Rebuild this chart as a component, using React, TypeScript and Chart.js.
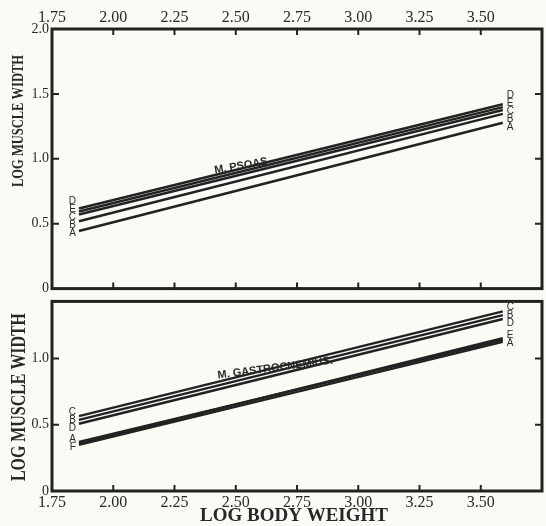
import React, { useEffect, useRef } from "react";
import { Chart, registerables } from "chart.js";

Chart.register(...registerables);

// ---------- data ----------
const xMin = 1.75;
const xMax = 3.75;
const xStep = 0.25;
const lineStartX = 1.86;
const lineEndX = 3.59;

const psoasSeries = ["A", "B", "C", "D", "E"];
const psoasStart = [0.444, 0.519, 0.571, 0.617, 0.594];
const psoasEnd = [1.278, 1.346, 1.376, 1.42, 1.398];
const psoasLeftLabels = ["D", "E", "C", "B", "A"];
const psoasRightLabels = ["D", "E", "C", "B", "A"];
const psoasTitle = "M. PSOAS";

const gastroSeries = ["A", "B", "C", "D", "E", "F"];
const gastroStart = [0.37, 0.536, 0.565, 0.507, 0.358, 0.348];
const gastroEnd = [1.138, 1.326, 1.355, 1.297, 1.152, 1.125];
const gastroLeftLabels = ["C", "B", "D", "A", "F"];
const gastroRightLabels = ["C", "B", "D", "E", "A"];
const gastroTitle = "M. GASTROCNEMIUS.";

const topYMax = 2.0;
const bottomYMax = 1.43;
const yStep = 0.5;

const yTitle = "LOG MUSCLE WIDTH";
const xTitle = "LOG BODY WEIGHT";

// ---------- styles ----------
const INK = "#222222";
const TEXT = "#282828";
const PAPER = "#fbfbf6";
const SERIF = '"Liberation Serif", "DejaVu Serif", serif';
const SANS = '"Liberation Sans", "DejaVu Sans", sans-serif';

function drawCondensed(ctx, text, cx, cy, rot, font, targetLen) {
  ctx.save();
  ctx.font = font;
  ctx.translate(cx, cy);
  ctx.rotate(rot);
  const w = ctx.measureText(text).width;
  ctx.scale(targetLen / w, 1);
  ctx.textAlign = "center";
  ctx.textBaseline = "middle";
  ctx.fillStyle = TEXT;
  ctx.fillText(text, 0, 0);
  ctx.restore();
}

function placeLabels(ys, gap) {
  const p = ys.slice();
  for (let k = 0; k < 80; k++) {
    for (let i = 1; i < p.length; i++) {
      const d = p[i] - p[i - 1];
      if (d < gap) {
        const s = (gap - d) / 2;
        p[i - 1] -= s;
        p[i] += s;
      }
    }
  }
  return p;
}

function makeDecor(cfg) {
  return {
    id: "decor",
    afterDraw(chart) {
      const { ctx, chartArea: a } = chart;
      const x = chart.scales.x;
      const y = chart.scales.y;
      ctx.save();
      // frame
      ctx.strokeStyle = INK;
      ctx.lineWidth = 3;
      ctx.strokeRect(a.left, a.top, a.right - a.left, a.bottom - a.top);
      // inward ticks
      ctx.lineWidth = 2;
      ctx.beginPath();
      x.ticks.forEach((t) => {
        if (t.value <= x.min + 1e-6 || t.value >= x.max - 1e-6) return;
        const px = x.getPixelForValue(t.value);
        if (cfg.tickTop) {
          ctx.moveTo(px, a.top);
          ctx.lineTo(px, a.top + 6);
        }
        if (cfg.tickBottom) {
          ctx.moveTo(px, a.bottom);
          ctx.lineTo(px, a.bottom - 6);
        }
      });
      y.ticks.forEach((t) => {
        if (t.value <= y.min + 1e-6 || t.value >= y.max - 1e-6) return;
        const py = y.getPixelForValue(t.value);
        ctx.moveTo(a.left, py);
        ctx.lineTo(a.left + 7, py);
        ctx.moveTo(a.right, py);
        ctx.lineTo(a.right - 7, py);
      });
      ctx.stroke();

      // series letters
      ctx.fillStyle = TEXT;
      ctx.font = "10px " + SANS;
      ctx.textBaseline = "middle";
      const doEnd = (labels, vals, xv, side) => {
        const items = labels
          .map((l) => ({ l, py: y.getPixelForValue(vals[cfg.series.indexOf(l)]) }))
          .sort((p, q) => p.py - q.py);
        const pos = placeLabels(items.map((it) => it.py), 8);
        const px = x.getPixelForValue(xv);
        ctx.textAlign = side === "left" ? "right" : "left";
        items.forEach((it, i) => {
          ctx.fillText(it.l, side === "left" ? px - 3 : px + 4, pos[i]);
        });
      };
      doEnd(cfg.leftLabels, cfg.start, lineStartX, "left");
      doEnd(cfg.rightLabels, cfg.end, lineEndX, "right");

      // muscle name
      ctx.save();
      ctx.translate(x.getPixelForValue(cfg.nameAt[0]), y.getPixelForValue(cfg.nameAt[1]));
      ctx.rotate(cfg.nameRot);
      ctx.font = "bold 11px " + SANS;
      ctx.textAlign = "left";
      ctx.textBaseline = "alphabetic";
      ctx.fillText(cfg.name, 0, 0);
      ctx.restore();

      // axis titles
      drawCondensed(ctx, yTitle, cfg.yTitleX, cfg.yTitleY, -Math.PI / 2, cfg.yTitleFont, cfg.yTitleLen);
      if (cfg.xTitle) {
        drawCondensed(ctx, xTitle, (a.left + a.right) / 2 - 3, cfg.xTitleY, 0, "bold 19px " + SERIF, 188);
      }
      ctx.restore();
    },
  };
}

function buildDatasets(series, start, end) {
  return series.map((s, i) => ({
    label: s,
    data: [
      { x: lineStartX, y: start[i] },
      { x: lineEndX, y: end[i] },
    ],
    borderColor: INK,
    borderWidth: 2.4,
    pointRadius: 0,
    fill: false,
  }));
}

function makeConfig(top) {
  const series = top ? psoasSeries : gastroSeries;
  const start = top ? psoasStart : gastroStart;
  const end = top ? psoasEnd : gastroEnd;
  const yMax = top ? topYMax : bottomYMax;
  return {
    type: "line",
    data: { datasets: buildDatasets(series, start, end) },
    options: {
      responsive: false,
      animation: false,
      devicePixelRatio: 1,
      layout: { padding: { top: top ? 0 : 5, bottom: top ? 5 : 0, left: 0, right: 4 } },
      plugins: { legend: { display: false }, tooltip: { enabled: false } },
      scales: {
        x: {
          type: "linear",
          position: top ? "top" : "bottom",
          min: xMin,
          max: xMax,
          grid: { display: false, drawTicks: false },
          border: { display: false },
          ticks: {
            stepSize: xStep,
            color: TEXT,
            font: { family: SERIF, size: 16 },
            padding: top ? 2 : 2,
            maxRotation: 0,
            autoSkip: false,
            callback: (v) => Number(v).toFixed(2),
          },
          afterBuildTicks: (s) => {
            s.ticks = s.ticks.filter((t) => t.value < xMax - 0.01);
          },
          afterFit: (s) => {
            s.height = top ? 29 : 35;
          },
        },
        y: {
          type: "linear",
          min: 0,
          max: yMax,
          grid: { display: false, drawTicks: false },
          border: { display: false },
          ticks: {
            stepSize: yStep,
            color: TEXT,
            font: { family: SERIF, size: 14 },
            padding: 3,
            callback: (v) => (Number(v) === 0 ? "0" : Number(v).toFixed(1)),
          },
          afterBuildTicks: (s) => {
            s.ticks = s.ticks.filter((t) => Math.abs(t.value / yStep - Math.round(t.value / yStep)) < 1e-6);
          },
          afterFit: (s) => {
            s.width = 52;
          },
        },
      },
    },
    plugins: [
      makeDecor(
        top
          ? {
              series,
              start,
              end,
              leftLabels: psoasLeftLabels,
              rightLabels: psoasRightLabels,
              name: psoasTitle,
              nameAt: [2.415, 0.887],
              nameRot: -0.17,
              tickTop: true,
              tickBottom: true,
              yTitleX: 19,
              yTitleY: 121,
              yTitleFont: "bold 17px " + SERIF,
              yTitleLen: 132,
              xTitle: false,
            }
          : {
              series,
              start,
              end,
              leftLabels: gastroLeftLabels,
              rightLabels: gastroRightLabels,
              name: gastroTitle,
              nameAt: [2.428, 0.848],
              nameRot: -0.13,
              tickTop: false,
              tickBottom: true,
              yTitleX: 20,
              yTitleY: 397 - 290,
              yTitleFont: "bold 20px " + SERIF,
              yTitleLen: 168,
              xTitle: true,
              xTitleY: 516 - 290,
            }
      ),
    ],
  };
}

function Panel({ top }) {
  const ref = useRef(null);
  useEffect(() => {
    const chart = new Chart(ref.current, makeConfig(top));
    return () => chart.destroy();
  }, [top]);
  return (
    <canvas
      ref={ref}
      width={546}
      height={top ? 300 : 236}
      style={{ position: "absolute", left: 0, top: top ? 0 : 290, width: 546, height: top ? 300 : 236 }}
    />
  );
}

export default function App() {
  return (
    <div style={{ position: "absolute", left: 0, top: 0, width: 546, height: 526, background: PAPER, overflow: "hidden" }}>
      <Panel top={true} />
      <Panel top={false} />
    </div>
  );
}
